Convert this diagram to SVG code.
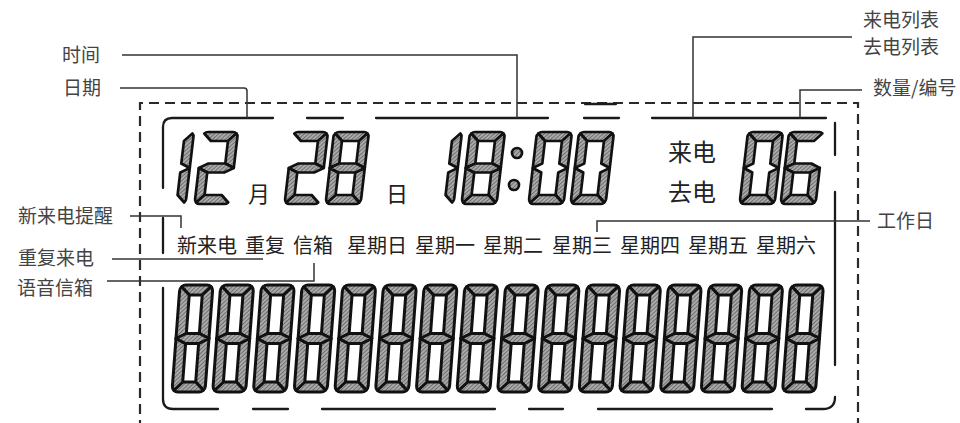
<svg xmlns="http://www.w3.org/2000/svg" xmlns:xlink="http://www.w3.org/1999/xlink" width="960" height="423" viewBox="0 0 960 423">
<style>
.seg{fill:url(#hatch);stroke:#111;stroke-width:2.7;stroke-linejoin:round}
.segb{fill:url(#hatch);stroke:#111;stroke-width:3;stroke-linejoin:round}
.frame{fill:none;stroke:#1a1a1a;stroke-width:2.3;stroke-linecap:round}
.dash{fill:none;stroke:#2a2a2a;stroke-width:2.2;stroke-dasharray:10 6}
.lead{fill:none;stroke:#333;stroke-width:1.5}
.lbl{font-family:"Noto Sans CJK SC","Noto Sans",sans-serif;font-size:19px;fill:#444}
.disp{font-family:"Noto Sans CJK SC","Noto Sans",sans-serif;font-size:20px;fill:#222}
.unit{font-family:"Noto Sans CJK SC","Noto Sans",sans-serif;font-size:22px;fill:#222}
.big{font-family:"Noto Sans CJK SC","Noto Sans",sans-serif;font-size:24px;fill:#222}
</style>
<defs>
<pattern id="hatch" patternUnits="userSpaceOnUse" width="3" height="3" patternTransform="rotate(45)">
<rect width="3" height="3" fill="#aaaaaa"/>
<line x1="0.5" y1="0" x2="0.5" y2="3" stroke="#6e6e6e" stroke-width="1"/>
</pattern>
<path id="ta" class="seg" d="M1.5,1.5 A5,5 0 0 1 5,0 L30,0 A5,5 0 0 1 33.5,1.5 L26,9 L9,9 Z"/>
<path id="tb" class="seg" d="M33.5,1.5 A5,5 0 0 1 35,5 L35,36 L26,31.5 L26,9 Z"/>
<path id="tc" class="seg" d="M35,36 L35,67 A5,5 0 0 1 33.5,70.5 L26,63 L26,40.5 Z"/>
<path id="td" class="seg" d="M1.5,70.5 L9,63 L26,63 L33.5,70.5 A5,5 0 0 1 30,72 L5,72 A5,5 0 0 1 1.5,70.5 Z"/>
<path id="te" class="seg" d="M0,36 L9,40.5 L9,63 L1.5,70.5 A5,5 0 0 1 0,67 Z"/>
<path id="tf" class="seg" d="M1.5,1.5 L9,9 L9,31.5 L0,36 L0,5 A5,5 0 0 1 1.5,1.5 Z"/>
<path id="tg" class="seg" d="M0,36 L9,31.5 L26,31.5 L35,36 L26,40.5 L9,40.5 Z"/>
<g id="b8">
<path class="segb" d="M1.75,1.75 A6,6 0 0 1 6,0 L27,0 A6,6 0 0 1 31.25,1.75 L23,10 L10,10 Z"/>
<path class="segb" d="M31.25,1.75 A6,6 0 0 1 33,6 L33,53.5 L23,48.5 L23,10 Z"/>
<path class="segb" d="M33,53.5 L33,101 A6,6 0 0 1 31.25,105.25 L23,97 L23,58.5 Z"/>
<path class="segb" d="M1.75,105.25 L10,97 L23,97 L31.25,105.25 A6,6 0 0 1 27,107 L6,107 A6,6 0 0 1 1.75,105.25 Z"/>
<path class="segb" d="M0,53.5 L10,58.5 L10,97 L1.75,105.25 A6,6 0 0 1 0,101 Z"/>
<path class="segb" d="M1.75,1.75 L10,10 L10,48.5 L0,53.5 L0,6 A6,6 0 0 1 1.75,1.75 Z"/>
<path class="segb" d="M0,53.5 L10,48.5 L23,48.5 L33,53.5 L23,58.5 L10,58.5 Z"/>
</g>
</defs>

<g id="outer-frame">
<path class="dash" d="M140,430 L140,103 L858,103 L858,430"/>
</g>

<g id="lcd-frame">
<path class="frame" d="M163,188 L163,127 Q163,118 172,118 L273,118"/>
<path class="frame" d="M307,118 L343,118 M376,118 L548,118 M584,118 L619,118 M652,118 L826,118 M585,104 L616,104"/>
<path class="frame" d="M835,123 L835,155 M835,192 L835,365 M835,397 Q835,409 823,409 L806,409"/>
<path class="frame" d="M163,218 L163,253 M163,288 L163,399 Q163,409 173,409 L218,409"/>
<path class="frame" d="M253,409 L288,409 M322,409 L495,409 M529,409 L563,409 M598,409 L772,409"/>
</g>

<g id="date-digits">
<g transform="translate(159,132) skewX(-6.7)"><use href="#tb"/><use href="#tc"/></g>
<g transform="translate(203,132) skewX(-6.7)"><use href="#ta"/><use href="#tb"/><use href="#tg"/><use href="#te"/><use href="#td"/></g>
<g transform="translate(293,132) skewX(-6.7)"><use href="#ta"/><use href="#tb"/><use href="#tg"/><use href="#te"/><use href="#td"/></g>
<g transform="translate(334,132) skewX(-6.7)"><use href="#ta"/><use href="#tb"/><use href="#tc"/><use href="#td"/><use href="#te"/><use href="#tf"/><use href="#tg"/></g>
<text class="unit" x="248" y="202">月</text>
<text class="unit" x="386" y="202">日</text>
</g>

<g id="time-digits">
<g transform="translate(427,132) skewX(-6.7)"><use href="#tb"/><use href="#tc"/></g>
<g transform="translate(470,132) skewX(-6.7)"><use href="#ta"/><use href="#tb"/><use href="#tc"/><use href="#td"/><use href="#te"/><use href="#tf"/><use href="#tg"/></g>
<circle class="seg" cx="517" cy="153" r="5"/>
<circle class="seg" cx="514" cy="185" r="5"/>
<g transform="translate(537,132) skewX(-6.7)"><use href="#ta"/><use href="#tb"/><use href="#tc"/><use href="#td"/><use href="#te"/><use href="#tf"/></g>
<g transform="translate(579,132) skewX(-6.7)"><use href="#ta"/><use href="#tb"/><use href="#tc"/><use href="#td"/><use href="#te"/><use href="#tf"/></g>
</g>

<g id="call-count">
<text class="big" x="668" y="161">来电</text>
<text class="big" x="668" y="201">去电</text>
<g transform="translate(748,132) skewX(-6.7)"><use href="#ta"/><use href="#tb"/><use href="#tc"/><use href="#td"/><use href="#te"/><use href="#tf"/></g>
<g transform="translate(789,132) skewX(-6.7)"><use href="#ta"/><use href="#tf"/><use href="#tg"/><use href="#te"/><use href="#td"/><use href="#tc"/></g>
</g>

<g id="indicators">
<text class="disp" x="177" y="253">新来电</text>
<text class="disp" x="245" y="253">重复</text>
<text class="disp" x="293" y="253">信箱</text>
<text class="disp" x="347" y="253">星期日</text>
<text class="disp" x="415" y="253">星期一</text>
<text class="disp" x="483" y="253">星期二</text>
<text class="disp" x="552" y="253">星期三</text>
<text class="disp" x="620" y="253">星期四</text>
<text class="disp" x="688" y="253">星期五</text>
<text class="disp" x="756" y="253">星期六</text>
</g>

<g id="text-row">
<use href="#b8" transform="translate(180,285) skewX(-4.3)"/>
<use href="#b8" transform="translate(220.7,285) skewX(-4.3)"/>
<use href="#b8" transform="translate(261.4,285) skewX(-4.3)"/>
<use href="#b8" transform="translate(302.1,285) skewX(-4.3)"/>
<use href="#b8" transform="translate(342.8,285) skewX(-4.3)"/>
<use href="#b8" transform="translate(383.5,285) skewX(-4.3)"/>
<use href="#b8" transform="translate(424.2,285) skewX(-4.3)"/>
<use href="#b8" transform="translate(464.9,285) skewX(-4.3)"/>
<use href="#b8" transform="translate(505.6,285) skewX(-4.3)"/>
<use href="#b8" transform="translate(546.3,285) skewX(-4.3)"/>
<use href="#b8" transform="translate(587,285) skewX(-4.3)"/>
<use href="#b8" transform="translate(627.7,285) skewX(-4.3)"/>
<use href="#b8" transform="translate(668.4,285) skewX(-4.3)"/>
<use href="#b8" transform="translate(709.1,285) skewX(-4.3)"/>
<use href="#b8" transform="translate(749.8,285) skewX(-4.3)"/>
<use href="#b8" transform="translate(790.5,285) skewX(-4.3)"/>
</g>

<g id="label-time"><text class="lbl" x="62" y="62">时间</text></g>
<g id="label-date"><text class="lbl" x="63" y="95">日期</text></g>
<g id="label-calllist"><text class="lbl" x="863" y="27">来电列表</text><text class="lbl" x="863" y="54">去电列表</text></g>
<g id="label-count"><text class="lbl" x="873" y="95">数量/编号</text></g>
<g id="label-new"><text class="lbl" x="18" y="223">新来电提醒</text></g>
<g id="label-repeat"><text class="lbl" x="18" y="265">重复来电</text></g>
<g id="label-voicemail"><text class="lbl" x="17" y="295">语音信箱</text></g>
<g id="label-workday"><text class="lbl" x="877" y="228">工作日</text></g>

<g id="connectors">
<path class="lead" d="M122,55 L517,55 L517,118"/>
<path class="lead" d="M120,88 L244,88 Q247,88 247,91 L247,118"/>
<path class="lead" d="M852,37 L693,37 L693,118"/>
<path class="lead" d="M862,90 L800,90 L800,118"/>
<path class="lead" d="M130,216 L181,216 L181,228"/>
<path class="lead" d="M112,259 L263,259"/>
<path class="lead" d="M107,281 L314,281 L314,263"/>
<path class="lead" d="M870,221 L597,221 L597,232"/>
</g>
</svg>
